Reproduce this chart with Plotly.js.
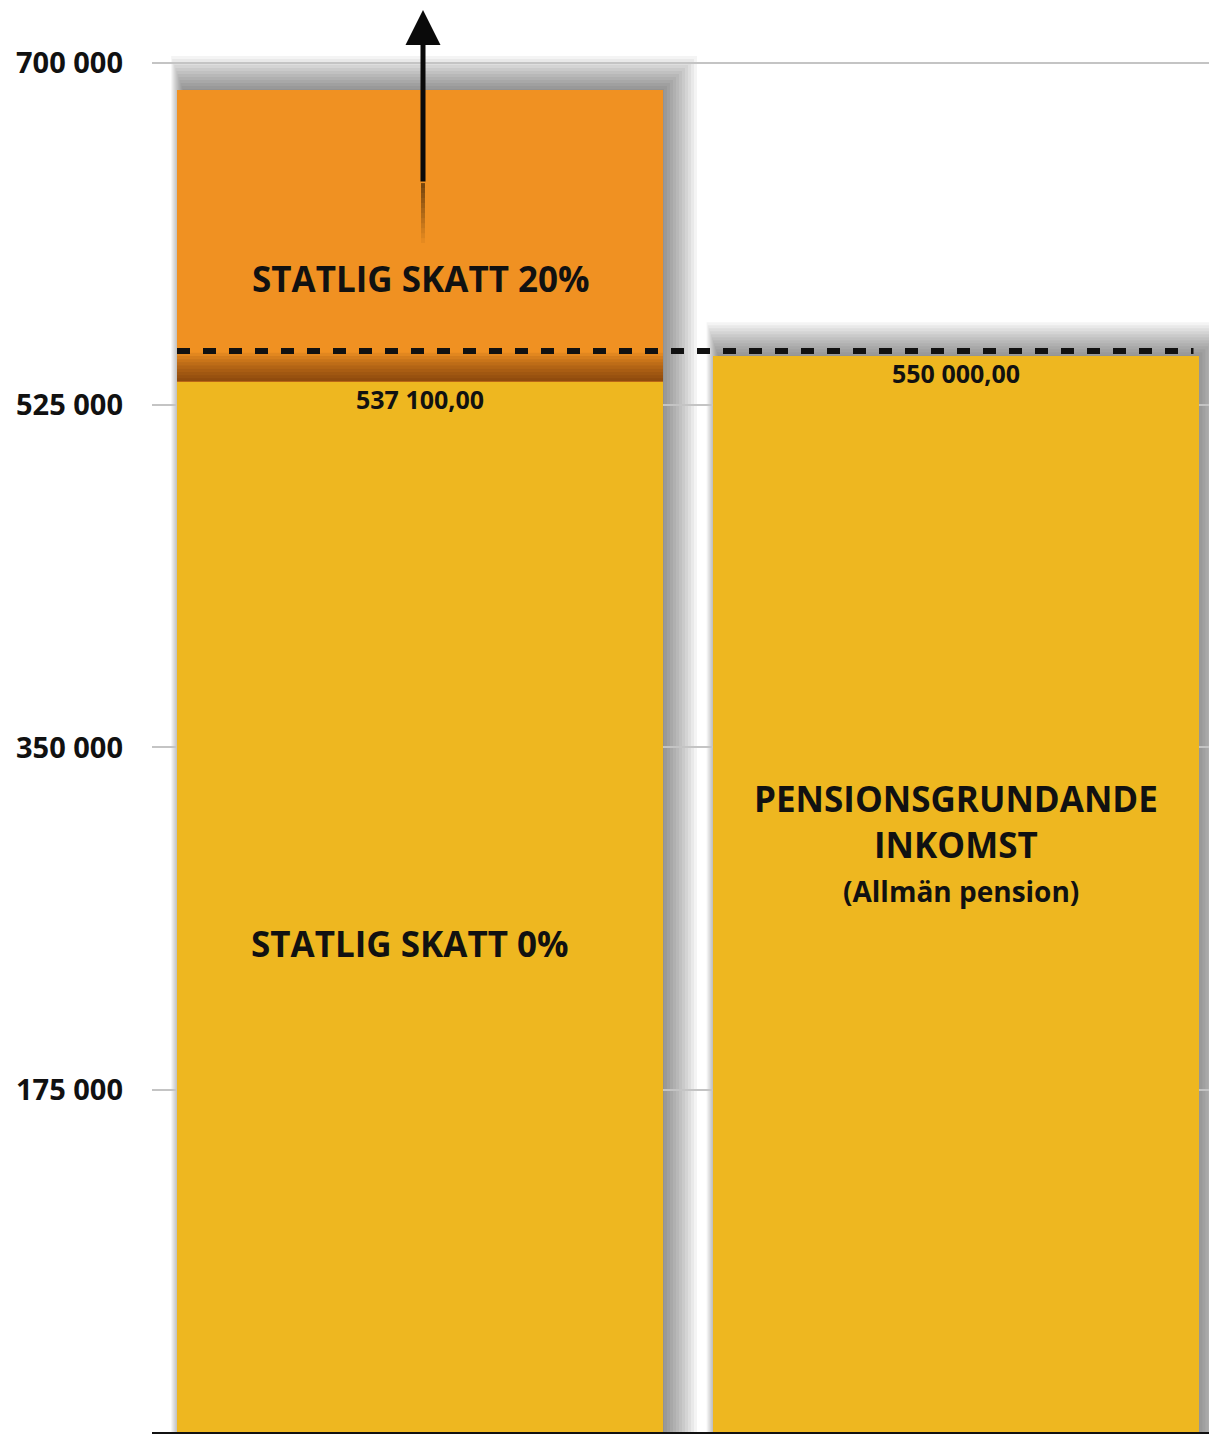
<!DOCTYPE html>
<html>
<head>
<meta charset="utf-8">
<script src="https://cdn.plot.ly/plotly-3.0.1.min.js"></script>
<style>html,body{margin:0;padding:0;background:#fff;}#chart{width:1209px;height:1444px;}</style>
</head>
<body>
<div id="chart"></div>
<script>
// ---- data ----
const categories = ["Statlig skatt", "Pensionsgrundande inkomst"];
const baseValues = [537100, 550000];          // yellow part (0% state tax / PGI)
const taxedTop = 686200;                        // top of orange (20% state tax) segment
const taxedValues = [taxedTop - baseValues[0], 0];
const thresholdValue = 552700;                  // dashed line level
const baseLabels = ["537 100,00", "550 000,00"];
const tickVals = [0, 175000, 350000, 525000, 700000];
const tickText = ["0", "175 000", "350 000", "525 000", "700 000"];
const arrowFrom = 638600, arrowTo = 727100;

// ---- geometry helpers ----
const W = 1209, H = 1444, ML = 152, MB = 12;
const yMax = 732200;
const plotH = H - MB;
const pyu = yMax / plotH;                 // data units per pixel (y)
const xUnitPx = 535.5;                    // px per x unit
const xMin = -(420 - ML) / xUnitPx;
const xMax = 1 + (W - 955.5) / xUnitPx;
const pxu = 1 / xUnitPx;                  // x units per pixel
const barW = 486 * pxu;
const xs = categories.map((c, i) => i);

const yellow = "#EEB720", orange = "#F09122", ink = "#111111";
const font = "Open Sans";

const traces = [
  {type: "bar", x: xs, y: baseValues, width: barW, marker: {color: yellow, line: {width: 0}}, hoverinfo: "skip"},
  {type: "bar", x: xs, y: taxedValues, width: barW, marker: {color: orange, line: {width: 0}}, hoverinfo: "skip"}
];

const shapes = [];
// soft drop shadows (stacked translucent rectangles), cast up and to the right
const tops = [taxedTop, baseValues[1]];
xs.forEach((x, i) => {
  const N = 12;
  for (let k = 0; k < N; k++) {
    const g = 1 + k * 3;
    shapes.push({type: "rect", layer: "below", xref: "x", yref: "y",
      x0: x - barW / 2 + (6 - g * 0.35) * pxu, x1: x + barW / 2 + g * pxu,
      y0: 0, y1: tops[i] + g * pyu,
      line: {width: 0}, fillcolor: "rgba(0,0,0,0.045)"});
  }
});
// shade on orange just above yellow part
for (let k = 1; k <= 9; k++) {
  shapes.push({type: "rect", layer: "above", xref: "x", yref: "y",
    x0: xs[0] - barW / 2, x1: xs[0] + barW / 2,
    y0: baseValues[0], y1: baseValues[0] + k * 3.2 * pyu,
    line: {width: 0}, fillcolor: "rgba(60,20,0,0.075)"});
}
// fading tail under arrow
for (let k = 0; k < 12; k++) {
  const y1 = arrowFrom - k * 5 * pyu;
  shapes.push({type: "line", layer: "above", xref: "x", yref: "y",
    x0: xs[0] + 3 * pxu, x1: xs[0] + 3 * pxu, y0: y1 - 5 * pyu, y1: y1,
    line: {color: "rgba(40,20,0," + (0.6 - k * 0.05).toFixed(3) + ")", width: 4}});
}
// dashed threshold line
shapes.push({type: "line", layer: "above", xref: "x", yref: "y",
  x0: xs[0] - barW / 2, x1: xs[1] + barW / 2 - 5 * pxu, y0: thresholdValue, y1: thresholdValue,
  line: {color: "#111", width: 6, dash: "13px,13px"}});

const ann = (x, y, text, size) => ({x, y, xref: "x", yref: "y", text, showarrow: false,
  font: {family: font, size, color: ink, weight: 700}, xanchor: "center", yanchor: "middle"});

const annotations = [
  ann(xs[0] + 1 * pxu, 589560, "STATLIG SKATT 20%", 35),
  ann(xs[0], 528200, baseLabels[0], 25),
  ann(xs[0] - 10 * pxu, 249530, "STATLIG SKATT 0%", 35),
  ann(xs[1], 541500, baseLabels[1], 25),
  ann(xs[1], 323670, "PENSIONSGRUNDANDE", 35),
  ann(xs[1], 300150, "INKOMST", 35),
  ann(xs[1] + 5 * pxu, 276630, "(Allmän pension)", 28),
  {x: xs[0] + 3 * pxu, y: arrowTo, ax: xs[0] + 3 * pxu, ay: arrowFrom, xref: "x", yref: "y",
   axref: "x", ayref: "y", text: "", showarrow: true, arrowhead: 2, arrowsize: 1.4,
   arrowwidth: 5, arrowcolor: "#0a0a0a", standoff: 0, startstandoff: 0}
];

const layout = {
  width: W, height: H,
  margin: {l: ML, r: 0, t: 0, b: MB, pad: 0},
  paper_bgcolor: "#ffffff", plot_bgcolor: "#ffffff",
  barmode: "stack", bargap: 0, showlegend: false,
  separators: ", ",
  xaxis: {range: [xMin, xMax], showgrid: false, zeroline: false, showticklabels: false, ticks: "",
          showline: true, linecolor: "#111", linewidth: 2, fixedrange: true},
  yaxis: {range: [0, yMax], tickvals: tickVals, ticktext: tickText, showgrid: true,
          gridcolor: "#c4c4c4", gridwidth: 2, zeroline: false, ticks: "",
          ticklabelstandoff: 28,
          tickfont: {family: font, size: 29, color: ink, weight: 700}, fixedrange: true},
  shapes, annotations
};

Plotly.newPlot("chart", traces, layout, {displayModeBar: false, staticPlot: true});
</script>
</body>
</html>
